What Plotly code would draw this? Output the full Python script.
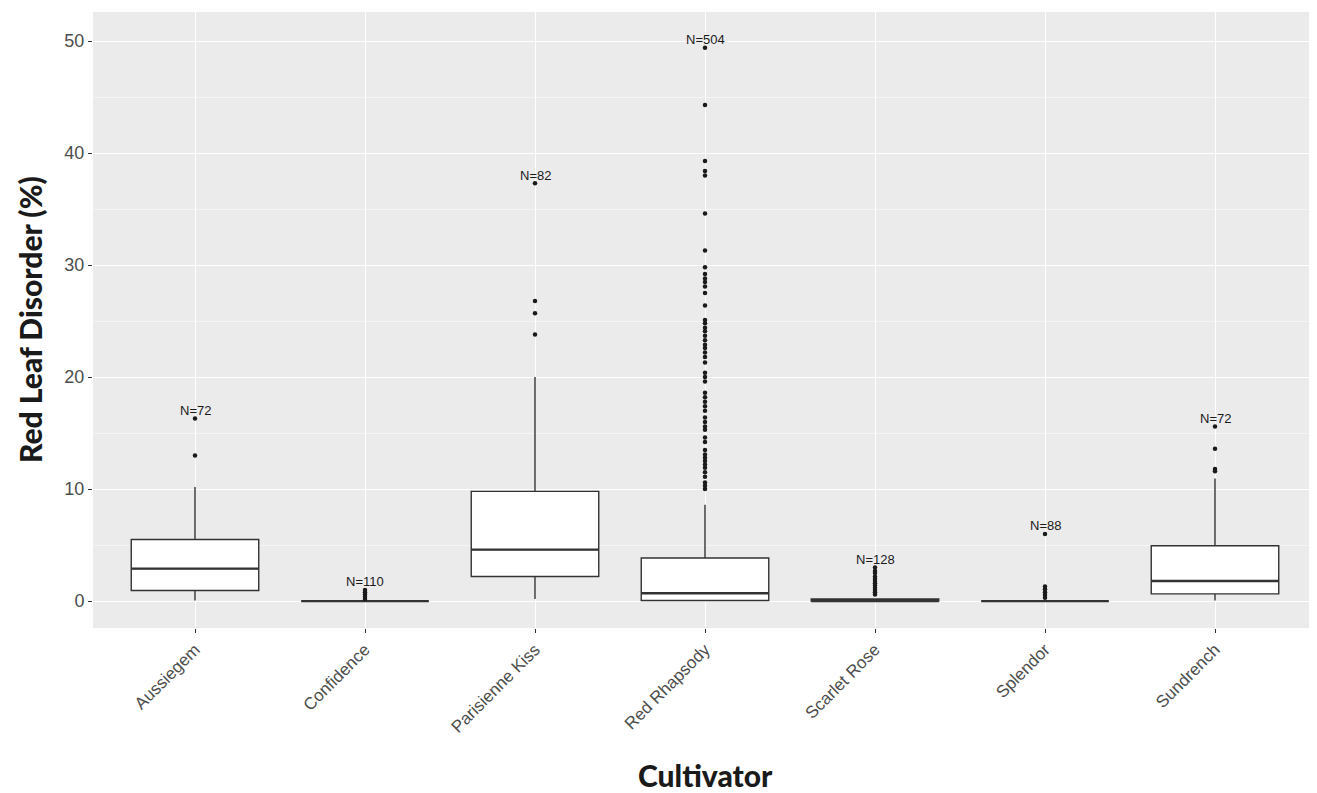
import plotly.graph_objects as go

# ---- data ----
cultivars = ["Aussiegem", "Confidence", "Parisienne Kiss", "Red Rhapsody",
             "Scarlet Rose", "Splendor", "Sundrench"]
n_obs = [72, 110, 82, 504, 128, 88, 72]
q1 = [0.95, 0.0, 2.2, 0.05, 0.0, 0.0, 0.65]
median = [2.9, 0.0, 4.6, 0.7, 0.0, 0.0, 1.8]
q3 = [5.5, 0.0, 9.8, 3.85, 0.2, 0.0, 4.95]
lower_whisker = [0.05, 0.0, 0.2, 0.0, 0.0, 0.0, 0.05]
upper_whisker = [10.2, 0.0, 20.0, 8.6, 0.2, 0.0, 10.95]

out_aussiegem = [13.0, 16.3]
out_confidence = [0.2, 0.4, 0.6, 0.8, 1.0]
out_parisienne = [23.8, 25.7, 26.8, 37.3]
out_red_rhapsody = [10.0, 10.3, 10.6, 11.1, 11.5, 11.9, 12.2, 12.5, 12.8, 13.1,
                    13.5, 14.2, 14.6, 15.3, 15.6, 16.0, 16.4, 17.0, 17.4, 17.8,
                    18.2, 18.6, 19.6, 20.0, 20.4, 21.3, 21.8, 22.2, 22.6, 22.9,
                    23.3, 23.7, 24.1, 24.4, 24.8, 25.1, 26.4, 27.5, 28.1, 28.5,
                    28.8, 29.2, 29.8, 31.3, 34.6, 38.0, 38.4, 39.3, 44.3, 49.4]
out_scarlet = [0.6, 0.8, 1.0, 1.2, 1.4, 1.6, 1.8, 2.0, 2.2, 2.5, 2.7, 3.0]
out_splendor = [0.3, 0.55, 0.8, 1.05, 1.3, 6.0]
out_sundrench = [11.6, 11.8, 13.6, 15.6]
outliers = [out_aussiegem, out_confidence, out_parisienne, out_red_rhapsody,
            out_scarlet, out_splendor, out_sundrench]

y_ticks = [0, 10, 20, 30, 40, 50]

# ---- figure ----
idx = list(range(len(cultivars)))
box_w = 0.75
line_col = "#333333"
text_font = "Liberation Sans, Arial, sans-serif"

fig = go.Figure()
fig.add_trace(go.Box(
    x=idx, q1=q1, median=median, q3=q3,
    lowerfence=lower_whisker, upperfence=upper_whisker,
    width=box_w, fillcolor="white",
    line=dict(color=line_col, width=1.4),
    whiskerwidth=0, boxpoints=False, showlegend=False, hoverinfo="skip",
))

# thicker median lines (ggplot style)
for i, m in zip(idx, median):
    fig.add_trace(go.Scatter(
        x=[i - box_w / 2, i + box_w / 2], y=[m, m], mode="lines",
        line=dict(color=line_col, width=2.4), showlegend=False, hoverinfo="skip"))

# outliers
ox, oy = [], []
for i, pts in zip(idx, outliers):
    ox += [i] * len(pts)
    oy += pts
fig.add_trace(go.Scatter(
    x=ox, y=oy, mode="markers",
    marker=dict(color="#1a1a1a", size=4.5), showlegend=False, hoverinfo="skip"))

# N labels
for i, n, pts, uw in zip(idx, n_obs, outliers, upper_whisker):
    top = max(pts + [uw])
    fig.add_annotation(x=i, y=top, text=f"N={n}", showarrow=False,
                       yanchor="middle", yshift=8,
                       font=dict(family=text_font, size=13, color="#1a1a1a"))

title_font = dict(family="Lato, Futura, sans-serif", size=30, color="#1a1a1a",
                  weight=900)
fig.add_annotation(text="Red Leaf Disorder (%)", xref="paper", yref="paper",
                   x=0, y=0.5, xshift=-63, textangle=-90, showarrow=False,
                   xanchor="center", yanchor="middle", font=title_font)
fig.add_annotation(text="Cultivator", xref="paper", yref="paper",
                   x=0.5, y=0, yshift=-147, showarrow=False,
                   xanchor="center", yanchor="middle", font=title_font)

# page body has an 8px default margin -> figure is 8px smaller than the window
fig.update_layout(
    width=1309, height=785,
    margin=dict(l=85, r=0, t=4, b=165),
    paper_bgcolor="white", plot_bgcolor="#EBEBEB",
    font=dict(family=text_font),
    xaxis=dict(
        range=[-0.6, 6.6], tickvals=idx, ticktext=cultivars, tickangle=-45,
        showgrid=True, gridcolor="white", gridwidth=1.1, zeroline=False,
        ticks="outside", ticklen=4, tickcolor=line_col,
        tickfont=dict(family=text_font, size=17, color="#4D4D4D"),
    ),
    yaxis=dict(
        range=[-2.4, 52.6], tickvals=y_ticks,
        showgrid=True, gridcolor="white", gridwidth=1.1, zeroline=False,
        ticks="outside", ticklen=4, tickcolor=line_col,
        tickfont=dict(family=text_font, size=18, color="#4D4D4D"),
        minor=dict(dtick=5, tick0=5, showgrid=True, gridcolor="#F5F5F5",
                   gridwidth=0.6, ticks=""),
    ),
)

fig.write_html("out.html")
